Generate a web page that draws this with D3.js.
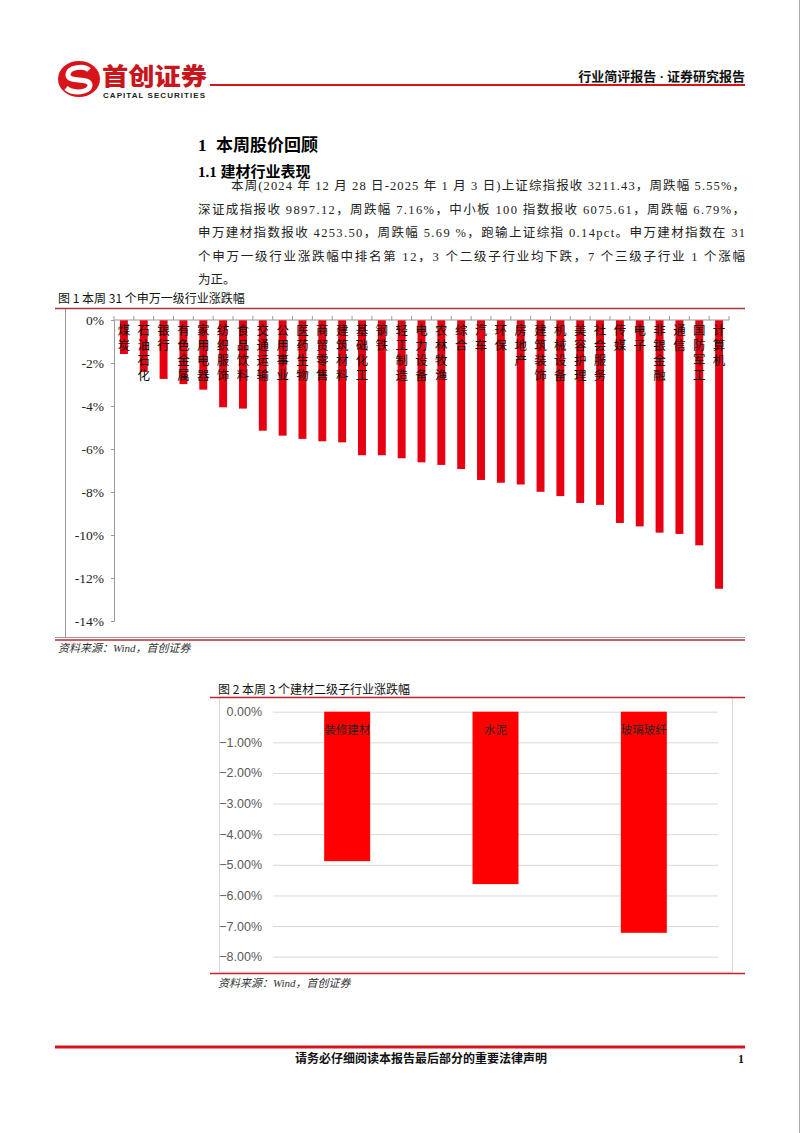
<!DOCTYPE html>
<html><head><meta charset="utf-8">
<script src="https://cdn.jsdelivr.net/npm/d3@7"></script>
<style>body{margin:0;background:#fff}</style>
</head><body><svg id="c" width="802" height="1133"></svg>
<script>
// ---------- data ----------
const industries = ["煤炭","石油石化","银行","有色金属","家用电器","纺织服饰","食品饮料","交通运输","公用事业","医药生物","商贸零售","建筑材料","基础化工","钢铁","轻工制造","电力设备","农林牧渔","综合","汽车","环保","房地产","建筑装饰","机械设备","美容护理","社会服务","传媒","电子","非银金融","通信","国防军工","计算机"];
const industryChange = [-1.58,-2.42,-2.74,-2.98,-3.24,-4.06,-4.12,-5.15,-5.38,-5.53,-5.64,-5.69,-6.29,-6.29,-6.43,-6.62,-6.74,-6.93,-7.44,-7.57,-7.65,-7.99,-8.19,-8.51,-8.60,-9.44,-9.60,-9.89,-9.95,-10.48,-12.50];
const yTicks1 = [0,-2,-4,-6,-8,-10,-12,-14];
const subIndustries = ["装修建材","水泥","玻璃玻纤"];
const subChange = [-4.88,-5.63,-7.22];
const yTicks2 = [0,-1,-2,-3,-4,-5,-6,-7,-8];
const paragraph = [
 "本周(2024 年 12 月 28 日-2025 年 1 月 3 日)上证综指报收 3211.43，周跌幅 5.55%，",
 "深证成指报收 9897.12，周跌幅 7.16%，中小板 100 指数报收 6075.61，周跌幅 6.79%，",
 "申万建材指数报收 4253.50，周跌幅 5.69 %，跑输上证综指 0.14pct。申万建材指数在 31",
 "个申万一级行业涨跌幅中排名第 12，3 个二级子行业均下跌，7 个三级子行业 1 个涨幅",
 "为正。"
];

const svg = d3.select("#c");
const CJK = "'Noto Sans CJK SC', sans-serif";
const SERIF = "'Liberation Serif', 'Noto Sans CJK SC', serif";

// page edge
svg.append("line").attr("x1",799.5).attr("x2",799.5).attr("y1",0).attr("y2",1133).attr("stroke","#aaa");

// ---------- header ----------
const logo = svg.append("g").attr("transform","translate(79,79)");
logo.append("ellipse").attr("rx",21).attr("ry",18).attr("fill","#d7141a");
logo.append("path").attr("d","M10,-9 C5,-14 -11,-12 -11,-4 C-11,4 11,-2 11,6 C11,14 -6,15 -13,9")
  .attr("fill","none").attr("stroke","#fff").attr("stroke-width",5);
svg.append("text").attr("x",102).attr("y",85).attr("font-family",CJK).attr("font-weight",900)
  .attr("font-size",24).attr("fill","#c8161d").attr("textLength",105).attr("lengthAdjust","spacingAndGlyphs").text("首创证券");
svg.append("text").attr("x",103).attr("y",97.5).attr("font-family","'Liberation Sans', Arial, sans-serif").attr("font-weight",700)
  .attr("font-size",8).attr("fill","#222").attr("textLength",102).text("CAPITAL SECURITIES");
svg.append("line").attr("x1",210).attr("x2",745).attr("y1",85).attr("y2",85).attr("stroke","#d7141a").attr("stroke-width",2.2);
svg.append("text").attr("x",745).attr("y",81).attr("text-anchor","end").attr("font-family",SERIF).attr("font-weight",700)
  .attr("font-size",13).attr("fill","#111").text("行业简评报告 · 证券研究报告");

// ---------- headings & paragraph ----------
svg.append("text").attr("x",198).attr("y",151).attr("font-family",SERIF).attr("font-weight",700)
  .attr("font-size",17).attr("fill","#000").text("1");
svg.append("text").attr("x",216).attr("y",151).attr("font-family",SERIF).attr("font-weight",700)
  .attr("font-size",17).attr("fill","#000").text("本周股价回顾");
svg.append("text").attr("x",198).attr("y",177).attr("font-family",SERIF).attr("font-weight",700)
  .attr("font-size",15).attr("fill","#000").text("1.1 建材行业表现");
paragraph.forEach((ln,i)=>{
  const x0 = i===0 ? 231 : 198;
  const t = svg.append("text").attr("x",x0).attr("y",190+i*23.6).attr("font-family",SERIF)
    .attr("font-size",12.5).attr("fill","#222").text(ln);
  if(i<4) t.attr("textLength",745-x0).attr("lengthAdjust","spacing");
});

// ---------- figure 1 ----------
svg.append("text").attr("x",58).attr("y",303).attr("font-family",CJK).attr("font-size",12).attr("fill","#111")
  .text("图 1 本周 31 个申万一级行业涨跌幅");
svg.append("line").attr("x1",55).attr("x2",745).attr("y1",308.5).attr("y2",308.5).attr("stroke","#a0383c").attr("stroke-width",1.5);
svg.append("line").attr("x1",65.5).attr("x2",65.5).attr("y1",309).attr("y2",637).attr("stroke","#999");
svg.append("line").attr("x1",55).attr("x2",745).attr("y1",637.5).attr("y2",637.5).attr("stroke","#999");
svg.append("line").attr("x1",55).attr("x2",745).attr("y1",640).attr("y2",640).attr("stroke","#c0262c").attr("stroke-width",1.3);

const x1 = d3.scaleBand().domain(industries).range([114,729]).paddingInner(0.6).paddingOuter(0.3);
const y1 = d3.scaleLinear().domain([-14,0]).range([621,320]);
const g1 = svg.append("g");
g1.selectAll("rect").data(industries).join("rect")
  .attr("x",d=>x1(d)).attr("width",x1.bandwidth())
  .attr("y",y1(0)).attr("height",(d,i)=>y1(industryChange[i])-y1(0))
  .attr("fill","#e60012");
const ya1 = g1.append("g").attr("transform","translate(114,0)")
  .call(d3.axisLeft(y1).tickValues(yTicks1).tickSize(3).tickFormat(d=>d+"%"));
ya1.select(".domain").attr("stroke","#999");
ya1.selectAll(".tick line").attr("stroke","#999");
ya1.selectAll(".tick text").attr("font-family","'Liberation Serif', serif").attr("font-size",13.5).attr("fill","#222").attr("x",-10);
g1.append("line").attr("x1",114).attr("x2",729).attr("y1",y1(0)).attr("y2",y1(0)).attr("stroke","#999");
const gap1 = x1.step() - x1.bandwidth();
const tickXs = industries.map(d=>x1(d)-gap1/2).concat([x1(industries[industries.length-1])+x1.bandwidth()+gap1/2]);
g1.selectAll("line.tk").data(tickXs).join("line").attr("class","tk")
  .attr("x1",d=>d).attr("x2",d=>d).attr("y1",y1(0)).attr("y2",y1(0)-4).attr("stroke","#999");
// vertical category labels
g1.selectAll("text.cat").data(industries).join("text").attr("class","cat")
  .attr("x",d=>x1(d)+x1.bandwidth()/2).attr("y",y1(0)+4)
  .style("writing-mode","vertical-rl").style("letter-spacing","2.5px")
  .attr("font-family",CJK).attr("font-size",12.5).attr("fill","#111")
  .text(d=>d);
svg.append("text").attr("x",58).attr("y",652).attr("font-family",SERIF).attr("font-style","italic")
  .attr("font-size",11).attr("fill","#333").text("资料来源：Wind，首创证券");

// ---------- figure 2 ----------
svg.append("text").attr("x",218).attr("y",694).attr("font-family",CJK).attr("font-size",12).attr("fill","#111")
  .text("图 2 本周 3 个建材二级子行业涨跌幅");
svg.append("rect").attr("x",219.5).attr("y",697).attr("width",513).attr("height",275).attr("fill","none").attr("stroke","#d9d9d9");
svg.append("line").attr("x1",210).attr("x2",745).attr("y1",697.5).attr("y2",697.5).attr("stroke","#c0262c").attr("stroke-width",1.3);
svg.append("line").attr("x1",210).attr("x2",745).attr("y1",973.5).attr("y2",973.5).attr("stroke","#c0262c").attr("stroke-width",1.3);

const x2 = d3.scaleBand().domain(subIndustries).range([273,718]).paddingInner(0.69).paddingOuter(0.345);
const y2 = d3.scaleLinear().domain([-8,0]).range([956.7,711.7]);
const g2 = svg.append("g");
const ya2 = g2.append("g").attr("transform","translate(273,0)")
  .call(d3.axisLeft(y2).tickValues(yTicks2).tickSize(-445).tickFormat(d=>d3.format(".2f")(d)+"%"));
ya2.select(".domain").remove();
ya2.selectAll(".tick line").attr("stroke","#d9d9d9");
ya2.selectAll(".tick text").attr("font-family","'Liberation Sans', Arial, sans-serif").attr("font-size",12.5)
  .attr("fill","#595959").attr("x",-11);
g2.selectAll("rect").data(subIndustries).join("rect")
  .attr("x",d=>x2(d)).attr("width",x2.bandwidth())
  .attr("y",y2(0)).attr("height",(d,i)=>y2(subChange[i])-y2(0)).attr("fill","#ff0000");
g2.selectAll("text.lb").data(subIndustries).join("text").attr("class","lb")
  .attr("x",d=>x2(d)+x2.bandwidth()/2).attr("y",y2(0)+22).attr("text-anchor","middle")
  .attr("font-family",CJK).attr("font-size",11.5).attr("fill","#262626").text(d=>d);
svg.append("text").attr("x",218).attr("y",987).attr("font-family",SERIF).attr("font-style","italic")
  .attr("font-size",11).attr("fill","#333").text("资料来源：Wind，首创证券");

// ---------- footer ----------
svg.append("line").attr("x1",55).attr("x2",745).attr("y1",1047).attr("y2",1047).attr("stroke","#d7141a").attr("stroke-width",3);
svg.append("text").attr("x",421).attr("y",1063).attr("text-anchor","middle").attr("font-family",SERIF).attr("font-weight",700)
  .attr("font-size",12).attr("fill","#111").text("请务必仔细阅读本报告最后部分的重要法律声明");
svg.append("text").attr("x",744).attr("y",1063).attr("text-anchor","end").attr("font-family",SERIF).attr("font-weight",700)
  .attr("font-size",12).attr("fill","#111").text("1");
</script>
</body></html>
